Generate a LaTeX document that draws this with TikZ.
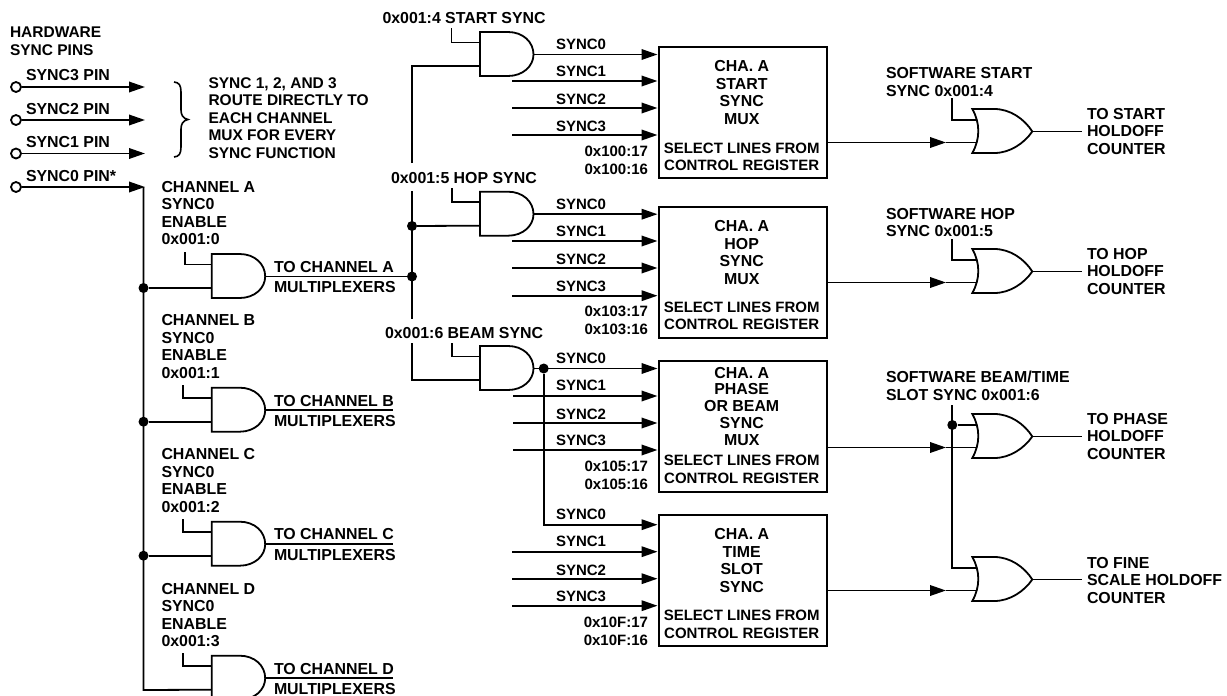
\documentclass[tikz,border=0pt]{standalone}
\usepackage{fontspec}
\setmainfont{Liberation Sans}
\usetikzlibrary{arrows.meta}
\tikzset{
  wire/.style={line width=1.8pt,line join=miter},
  arr/.style={line width=1.9pt,-{Triangle[length=16pt,width=10.5pt]}},
  gateline/.style={line width=1.8pt,line join=miter},
  muxbox/.style={draw,line width=2pt,minimum width=168.5pt,minimum height=131pt,inner sep=0pt,anchor=north west},
  dot/.style={circle,fill=black,draw=none,minimum size=10pt,inner sep=0pt},
  pin/.style={circle,draw,line width=1.8pt,fill=white,minimum size=10pt,inner sep=0pt},
  lbl/.style={inner sep=0pt,outer sep=0pt,anchor=base west,align=left,font=\bfseries\fontsize{15.9}{17.5}\selectfont},
  note/.style={lbl,font=\bfseries\fontsize{15.5}{17.5}\selectfont},
  slbl/.style={lbl,font=\bfseries\fontsize{15}{17.5}\selectfont},
  ctr/.style={inner sep=0pt,outer sep=0pt,anchor=base,align=center,font=\bfseries\fontsize{15.9}{17.5}\selectfont},
  sctr/.style={ctr,font=\bfseries\fontsize{15}{17.5}\selectfont},
  rgt/.style={inner sep=0pt,outer sep=0pt,anchor=base east,align=right,font=\bfseries\fontsize{15}{17.5}\selectfont},
  andgate/.pic={
    \draw[gateline] (0,0) -- (28,0) .. controls (43,0) and (53.5,10) .. (53.5,22.5) .. controls (53.5,34) and (43,44) .. (28,44) -- (0,44) -- cycle;
    \coordinate (-i1) at (0,10.5);
    \coordinate (-i2) at (0,34);
    \coordinate (-out) at (53.5,22.5);
  },
  orgate/.pic={
    \draw[gateline] (0,0) -- (22,0) .. controls (38,0) and (52,10) .. (60,22.5) .. controls (52,34) and (38,44) .. (22,44) -- (0,44) .. controls (8,30) and (8,14) .. (0,0) -- cycle;
    \coordinate (-i1) at (5,11);
    \coordinate (-i2) at (5,33.5);
    \coordinate (-out) at (60,22.5);
  },
}
\begin{document}
\begin{tikzpicture}[x=1pt,y=-1pt]
\useasboundingbox (0,0) rectangle (1227,696);

% ---- pins
\node[note] (hw) at (10,55) {HARDWARE\\SYNC PINS};
\node[pin] (p3) at (16,87) {};
\node[pin] (p2) at (16,120) {};
\node[pin] (p1) at (16,153.5) {};
\node[pin] (p0) at (16,187) {};
\coordinate (p3e) at (145,87);
\coordinate (p2e) at (145,120);
\coordinate (p1e) at (145,153.5);
\coordinate (p0e) at (145,187);
\draw[arr] (p3) -- (p3e);
\draw[arr] (p2) -- (p2e);
\draw[arr] (p1) -- (p1e);
\draw[arr] (p0) -- (p0e);
\node[lbl] (l3) at (26,80) {SYNC3 PIN};
\node[lbl] (l2) at (26,114) {SYNC2 PIN};
\node[lbl] (l1) at (26,147) {SYNC1 PIN};
\node[lbl] (l0) at (26,181) {SYNC0 PIN*};
\draw[line width=1.6pt] (174,82) .. controls (179,82.5) and (181,85) .. (181,92) -- (181,110) .. controls (181,115) and (183,118.5) .. (188,119.5) .. controls (183,120.5) and (181,124) .. (181,129) -- (181,147) .. controls (181,154) and (179,156.5) .. (174,157);
\node[note] (nt) at (208.5,158.3) {SYNC 1, 2, AND 3\\ROUTE DIRECTLY TO\\EACH CHANNEL\\MUX FOR EVERY\\SYNC FUNCTION};

% ---- channel gates
\pic (ga) at (211.7,254) {andgate};
\pic (gb) at (211.7,387.7) {andgate};
\pic (gc) at (211.7,521.7) {andgate};
\pic (gd) at (211.7,655.7) {andgate};

\coordinate (busTop) at (143.5,187);
\coordinate (busEnd) at (143.5,690);
\draw[wire] (busTop) -- (busEnd) -- (gd-i2);
\node[dot] (ja) at (143.5,288) {};
\node[dot] (jb) at (143.5,421.7) {};
\node[dot] (jc) at (143.5,555.7) {};
\draw[wire] (ja) -- (ga-i2);
\draw[wire] (jb) -- (gb-i2);
\draw[wire] (jc) -- (gc-i2);

\coordinate (ea) at (184.7,252);
\coordinate (eb) at (182.7,385);
\coordinate (ec) at (182.7,519);
\coordinate (ed) at (182.7,653);
\draw[wire] (ea) |- (ga-i1);
\draw[wire] (eb) |- (gb-i1);
\draw[wire] (ec) |- (gc-i1);
\draw[wire] (ed) |- (gd-i1);

\node[lbl] (ca) at (161.5,244.7) {CHANNEL A\\SYNC0\\ENABLE\\0x001:0};
\node[lbl] (cb) at (161.5,378.3) {CHANNEL B\\SYNC0\\ENABLE\\0x001:1};
\node[lbl] (cc) at (161.5,512) {CHANNEL C\\SYNC0\\ENABLE\\0x001:2};
\node[lbl] (cd) at (161.5,646.7) {CHANNEL D\\SYNC0\\ENABLE\\0x001:3};

\node[lbl] (ta) at (274,272.7) {TO CHANNEL A};
\node[lbl] (ma) at (274,292.3) {MULTIPLEXERS};
\node[lbl] (tb) at (274,406.7) {TO CHANNEL B};
\node[lbl] (mb) at (274,426.7) {MULTIPLEXERS};
\node[lbl] (tc) at (274,539.3) {TO CHANNEL C};
\node[lbl] (mc) at (274,560) {MULTIPLEXERS};
\node[lbl] (td) at (274,674.3) {TO CHANNEL D};
\node[lbl] (md) at (274,694.3) {MULTIPLEXERS};

\coordinate (ob) at (393,410.2);
\coordinate (oc) at (393,544.2);
\coordinate (od) at (393,678.2);
\draw[wire] (gb-out) -- (ob);
\draw[wire] (gc-out) -- (oc);
\draw[wire] (gd-out) -- (od);

% ---- function gates
\pic (gs) at (480,32) {andgate};
\pic (gh) at (480,191.7) {andgate};
\pic (gp) at (480,346) {andgate};

\node[dot] (jh) at (412,226) {};
\node[dot] (jm) at (412,276.5) {};
\draw[wire] (ga-out) -- (jm);
\draw[wire] (jh) -- (gh-i2);
\coordinate (b1) at (412,163);
\coordinate (b2) at (412,191);
\coordinate (b3) at (412,319);
\coordinate (b4) at (412,343);
\draw[wire] (b1) |- (gs-i2);
\draw[wire] (b2) -- (b3);
\draw[wire] (b4) |- (gp-i2);

\coordinate (es) at (451.5,28);
\coordinate (eh) at (451.7,188);
\coordinate (ep) at (451.7,343);
\draw[wire] (es) |- (gs-i1);
\draw[wire] (eh) |- (gh-i1);
\draw[wire] (ep) |- (gp-i1);

\node[lbl] (ts) at (382.5,23.3) {0x001:4 START SYNC};
\node[lbl] (th) at (391,183.3) {0x001:5 HOP SYNC};
\node[lbl] (tp) at (385,338) {0x001:6 BEAM SYNC};

% ---- mux boxes
\node[muxbox] (bs) at (657.5,45.7) {};
\node[muxbox] (bh) at (657.5,205.7) {};
\node[muxbox] (bp) at (657.5,360) {};
\node[muxbox] (bt) at (657.5,514) {};

\node[ctr] (bst) at (741.7,124) {CHA. A\\START\\SYNC\\MUX};
\node[sctr] (bss) at (741.7,170.5) {SELECT LINES FROM\\CONTROL REGISTER};
\node[ctr] (bht) at (741.7,284) {CHA. A\\HOP\\SYNC\\MUX};
\node[sctr] (bhs) at (741.7,329.5) {SELECT LINES FROM\\CONTROL REGISTER};
\node[ctr,font=\bfseries\fontsize{15.9}{16.8}\selectfont] (bpt) at (741.7,445.3) {CHA. A\\PHASE\\OR BEAM\\SYNC\\MUX};
\node[sctr] (bps) at (741.7,483) {SELECT LINES FROM\\CONTROL REGISTER};
\node[ctr] (btt) at (741.7,592) {CHA. A\\TIME\\SLOT\\SYNC};
\node[sctr] (bts) at (741.7,638) {SELECT LINES FROM\\CONTROL REGISTER};

% ---- inputs of the boxes
\coordinate (s1) at (512,81);
\coordinate (s2) at (512,108);
\coordinate (s3) at (512,135);
\draw[arr] (gs-out) -- (gs-out -| bs.west);
\draw[arr] (s1) -- (s1 -| bs.west);
\draw[arr] (s2) -- (s2 -| bs.west);
\draw[arr] (s3) -- (s3 -| bs.west);
\node[slbl] at (556,49.3) {SYNC0};
\node[slbl] at (556,76.3) {SYNC1};
\node[slbl] at (556,104.3) {SYNC2};
\node[slbl] at (556,131.3) {SYNC3};
\node[rgt] (as) at (648,174) {0x100:17\\0x100:16};

\coordinate (h1) at (512,241);
\coordinate (h2) at (512,268);
\coordinate (h3) at (512,295.7);
\draw[arr] (gh-out) -- (gh-out -| bh.west);
\draw[arr] (h1) -- (h1 -| bh.west);
\draw[arr] (h2) -- (h2 -| bh.west);
\draw[arr] (h3) -- (h3 -| bh.west);
\node[slbl] at (556,209.3) {SYNC0};
\node[slbl] at (556,236) {SYNC1};
\node[slbl] at (556,264.3) {SYNC2};
\node[slbl] at (556,291.3) {SYNC3};
\node[rgt] (ah) at (648,334) {0x103:17\\0x103:16};

\coordinate (q1) at (513,396);
\coordinate (q2) at (513,423);
\coordinate (q3) at (513,450);
\node[dot] (jp) at (543.7,368.5) {};
\draw[arr] (gp-out) -- (gp-out -| bp.west);
\draw[arr] (q1) -- (q1 -| bp.west);
\draw[arr] (q2) -- (q2 -| bp.west);
\draw[arr] (q3) -- (q3 -| bp.west);
\node[slbl] at (556,363.3) {SYNC0};
\node[slbl] at (556,390) {SYNC1};
\node[slbl] at (556,419) {SYNC2};
\node[slbl] at (556,445) {SYNC3};
\node[rgt] (ap) at (648,489.3) {0x105:17\\0x105:16};

\coordinate (t0) at (543.7,524.7);
\coordinate (t1) at (512,551.7);
\coordinate (t2) at (512,578.7);
\coordinate (t3) at (512,605.7);
\draw[arr] (jp) |- (t0 -| bt.west);
\draw[arr] (t1) -- (t1 -| bt.west);
\draw[arr] (t2) -- (t2 -| bt.west);
\draw[arr] (t3) -- (t3 -| bt.west);
\node[slbl] at (556,519.3) {SYNC0};
\node[slbl] at (556,546.3) {SYNC1};
\node[slbl] at (556,575) {SYNC2};
\node[slbl] at (556,601) {SYNC3};
\node[rgt] (at) at (648,645) {0x10F:17\\0x10F:16};

% ---- OR gates
\pic (os) at (972.3,109) {orgate};
\pic (oh) at (972.3,249) {orgate};
\pic (op) at (972.3,414) {orgate};
\pic (of) at (972.3,557) {orgate};

\coordinate (mks) at (946,142.5);
\coordinate (mkh) at (946,282.5);
\coordinate (mkp) at (946,447.5);
\coordinate (mkf) at (946,590.5);
\draw[arr] (mks -| bs.east) -- (mks);
\draw[arr] (mkh -| bh.east) -- (mkh);
\draw[arr] (mkp -| bp.east) -- (mkp);
\draw[arr] (mkf -| bt.east) -- (mkf);
\draw[wire] (mks) -- (os-i2);
\draw[wire] (mkh) -- (oh-i2);
\draw[wire] (mkp) -- (op-i2);
\draw[wire] (mkf) -- (of-i2);

\coordinate (vs) at (952.3,98);
\coordinate (vh) at (952.3,239);
\coordinate (vp) at (952.3,405);
\draw[wire] (vs) |- (os-i1);
\draw[wire] (vh) |- (oh-i1);
\node[dot] (jo) at (952.3,425) {};
\draw[wire] (jo) -- (op-i1);
\draw[wire] (vp) |- (of-i1);

\node[lbl] (sws) at (886,96) {SOFTWARE START\\SYNC 0x001:4};
\node[lbl] (swh) at (886,236.7) {SOFTWARE HOP\\SYNC 0x001:5};
\node[lbl] (swp) at (886,400) {SOFTWARE BEAM/TIME\\SLOT SYNC 0x001:6};

\coordinate (xs) at (1081.7,131.5);
\coordinate (xh) at (1081.7,271.5);
\coordinate (xp) at (1081.7,436.5);
\coordinate (xf) at (1081.7,579.5);
\draw[wire] (os-out) -- (xs);
\draw[wire] (oh-out) -- (xh);
\draw[wire] (op-out) -- (xp);
\draw[wire] (of-out) -- (xf);

\node[lbl] (rs) at (1087,154) {TO START\\HOLDOFF\\COUNTER};
\node[lbl] (rh) at (1087,294) {TO HOP\\HOLDOFF\\COUNTER};
\node[lbl] (rp) at (1087,459) {TO PHASE\\HOLDOFF\\COUNTER};
\node[lbl] (rf) at (1087,603.3) {TO FINE\\SCALE HOLDOFF\\COUNTER};
\end{tikzpicture}
\end{document}
